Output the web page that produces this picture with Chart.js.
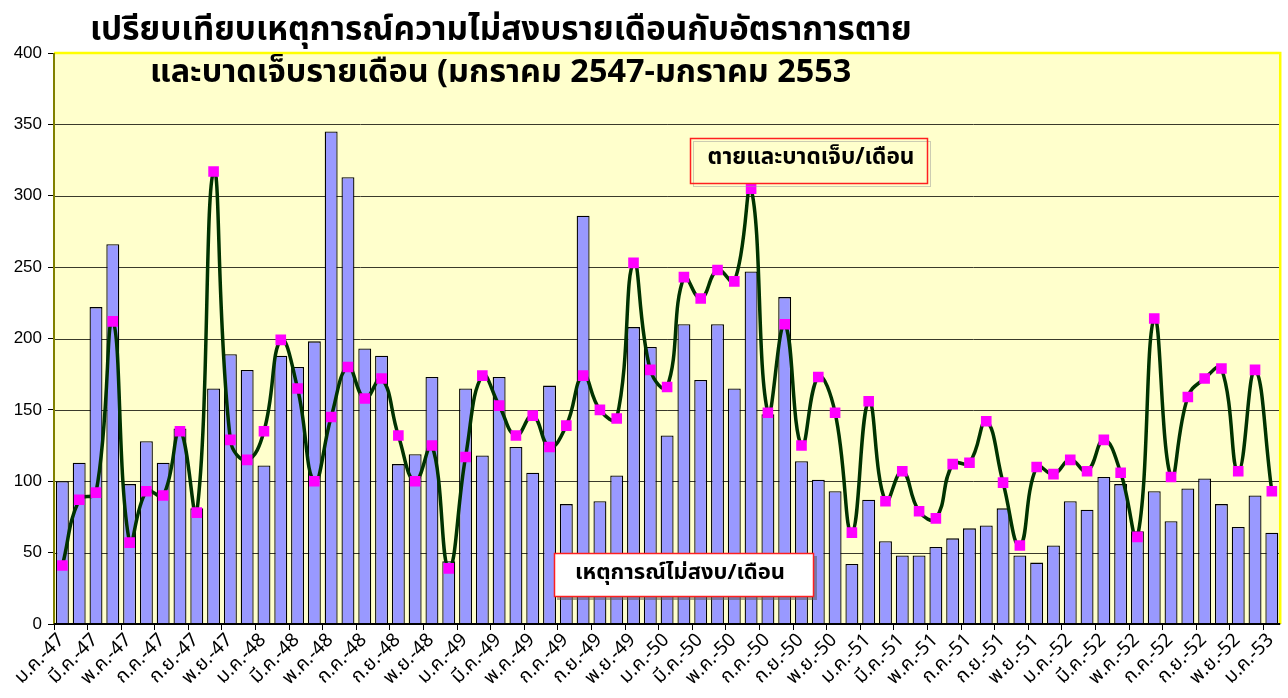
<!DOCTYPE html>
<html>
<head>
<meta charset="utf-8">
<script src="https://cdn.jsdelivr.net/npm/chart.js@4/dist/chart.umd.min.js"></script>
<style>
html,body{margin:0;padding:0;background:#fff;}
#wrap{position:relative;width:1288px;height:698px;}
</style>
</head>
<body>
<div id="wrap"><canvas id="c" width="1288" height="698"></canvas></div>
<script>
const categories = [
 "ม.ค.-47","ก.พ.-47","มี.ค.-47","เม.ย.-47","พ.ค.-47","มิ.ย.-47","ก.ค.-47","ส.ค.-47","ก.ย.-47","ต.ค.-47","พ.ย.-47","ธ.ค.-47",
 "ม.ค.-48","ก.พ.-48","มี.ค.-48","เม.ย.-48","พ.ค.-48","มิ.ย.-48","ก.ค.-48","ส.ค.-48","ก.ย.-48","ต.ค.-48","พ.ย.-48","ธ.ค.-48",
 "ม.ค.-49","ก.พ.-49","มี.ค.-49","เม.ย.-49","พ.ค.-49","มิ.ย.-49","ก.ค.-49","ส.ค.-49","ก.ย.-49","ต.ค.-49","พ.ย.-49","ธ.ค.-49",
 "ม.ค.-50","ก.พ.-50","มี.ค.-50","เม.ย.-50","พ.ค.-50","มิ.ย.-50","ก.ค.-50","ส.ค.-50","ก.ย.-50","ต.ค.-50","พ.ย.-50","ธ.ค.-50",
 "ม.ค.-51","ก.พ.-51","มี.ค.-51","เม.ย.-51","พ.ค.-51","มิ.ย.-51","ก.ค.-51","ส.ค.-51","ก.ย.-51","ต.ค.-51","พ.ย.-51","ธ.ค.-51",
 "ม.ค.-52","ก.พ.-52","มี.ค.-52","เม.ย.-52","พ.ค.-52","มิ.ย.-52","ก.ค.-52","ส.ค.-52","ก.ย.-52","ต.ค.-52","พ.ย.-52","ธ.ค.-52",
 "ม.ค.-53"
];
const incidents = [100,113,222,266,98,128,113,137,81,165,189,178,111,188,180,198,345,313,193,188,112,119,173,44,165,118,173,124,106,167,84,286,86,104,208,194,132,210,171,210,165,247,147,229,114,101,93,42,87,58,48,48,54,60,67,69,81,48,43,55,86,80,103,98,65,93,72,95,102,84,68,90,64];
const casualties = [41,87,92,212,57,93,90,135,78,317,129,115,135,199,165,100,145,180,158,172,132,100,125,39,117,174,153,132,146,124,139,174,150,144,253,178,166,243,228,248,240,305,148,210,125,173,148,64,156,86,107,79,74,112,113,142,99,55,110,105,115,107,129,106,61,214,103,159,172,179,107,178,93];
const yTicks = [0,50,100,150,200,250,300,350,400];
const titleLines = ["เปรียบเทียบเหตุการณ์ความไม่สงบรายเดือนกับอัตราการตาย","และบาดเจ็บรายเดือน (มกราคม 2547-มกราคม 2553"];
const lineLabel = "ตายและบาดเจ็บ/เดือน";
const barLabel = "เหตุการณ์ไม่สงบ/เดือน";

const FONT = "Tahoma, 'Noto Sans Thai', 'Noto Sans', 'DejaVu Sans', sans-serif";

function fitText(ctx, text, targetW, baseSize){
  ctx.font = "bold " + baseSize + "px " + FONT;
  const w = ctx.measureText(text).width;
  const sz = baseSize * targetW / w;
  ctx.font = "bold " + sz.toFixed(1) + "px " + FONT;
}

const decor = {
  id:'decor',
  beforeDatasetsDraw(chart){
    const {ctx, chartArea:a} = chart;
    ctx.save();
    ctx.fillStyle = '#FFFFCC';
    ctx.fillRect(a.left, a.top, a.right-a.left, a.bottom-a.top);
    const y = chart.scales.y;
    ctx.strokeStyle = '#3a3a2a';
    ctx.lineWidth = 1;
    yTicks.forEach(v=>{
      if(v===0||v===400) return;
      const py = Math.round(y.getPixelForValue(v))+0.5;
      ctx.beginPath(); ctx.moveTo(a.left, py); ctx.lineTo(a.right, py); ctx.stroke();
    });
    ctx.restore();
  },
  afterDatasetsDraw(chart){
    const {ctx, chartArea:a} = chart;
    ctx.save();
    ctx.strokeStyle = '#FFFF00';
    ctx.lineWidth = 2.5;
    ctx.beginPath();
    ctx.moveTo(a.left, a.top); ctx.lineTo(a.right, a.top); ctx.lineTo(a.right, a.bottom);
    ctx.stroke();
    ctx.strokeStyle = '#808000';
    ctx.lineWidth = 2;
    ctx.beginPath(); ctx.moveTo(a.left, a.top); ctx.lineTo(a.left, a.bottom); ctx.stroke();
    ctx.strokeStyle = '#000';
    ctx.lineWidth = 2;
    ctx.beginPath(); ctx.moveTo(a.left, a.bottom); ctx.lineTo(a.right, a.bottom); ctx.stroke();

    // annotation 1 (line)
    ctx.fillStyle = '#FFFFCC';
    ctx.fillRect(690,138,238,45);
    ctx.setLineDash([1,1]);
    ctx.strokeStyle = '#999';
    ctx.lineWidth = 1;
    ctx.strokeRect(693.5,141.5,237,45);
    ctx.setLineDash([]);
    ctx.strokeStyle = '#FF2020';
    ctx.lineWidth = 1.5;
    ctx.strokeRect(690.5,138.5,237,45);
    ctx.fillStyle = '#000';
    ctx.textAlign = 'center';
    ctx.textBaseline = 'middle';
    fitText(ctx, lineLabel, 207, 17);
    ctx.fillText(lineLabel, 811, 159);

    // annotation 2 (bars)
    ctx.fillStyle = 'rgba(90,90,90,0.55)';
    ctx.fillRect(557,556,260,44);
    ctx.fillStyle = '#FFFFFF';
    ctx.fillRect(554,553,260,44);
    ctx.strokeStyle = '#FF2020';
    ctx.lineWidth = 1.5;
    ctx.strokeRect(554.5,553.5,259,43);
    ctx.fillStyle = '#000';
    fitText(ctx, barLabel, 210, 17);
    ctx.fillText(barLabel, 680, 575);

    // title
    ctx.textAlign = 'left';
    ctx.textBaseline = 'alphabetic';
    fitText(ctx, titleLines[0], 822, 28);
    ctx.fillText(titleLines[0], 90, 40);
    fitText(ctx, titleLines[1], 702, 28);
    ctx.fillText(titleLines[1], 150, 82);
    ctx.restore();
  }
};

new Chart(document.getElementById('c'), {
  type:'bar',
  data:{
    labels: categories,
    datasets:[
      {
        type:'line',
        label: lineLabel,
        data: casualties,
        borderColor:'#003300',
        borderWidth:3.5,
        tension:0.45,
        pointStyle:'rect',
        pointRadius:7.5,
        pointBackgroundColor:'#FF00FF',
        pointBorderWidth:0,
        pointBorderColor:'#FF00FF',
        order:0
      },
      {
        type:'bar',
        label: barLabel,
        data: incidents,
        backgroundColor:'#9999FF',
        borderColor:'#000000',
        borderWidth:1.3,
        categoryPercentage:1,
        barPercentage:0.77,
        order:1
      }
    ]
  },
  options:{
    responsive:false,
    animation:false,
    layout:{padding:{top:53,right:7,left:0,bottom:0}},
    plugins:{legend:{display:false},tooltip:{enabled:false},title:{display:false}},
    scales:{
      x:{
        offset:true,
        grid:{
          offset:true,
          drawOnChartArea:false,
          drawTicks:true,
          tickLength:6,
          color:(c)=> (c.index % 2 === 0 ? '#000' : 'rgba(0,0,0,0)'),
          lineWidth:1
        },
        border:{display:false},
        ticks:{
          autoSkip:false,
          minRotation:45,
          maxRotation:45,
          padding:0,
          color:'#000',
          font:{family:FONT, size:19},
          callback:function(v,i){ return i % 2 === 0 ? categories[i] : ''; }
        },
        afterFit(scale){ scale.height = 74; }
      },
      y:{
        min:0,max:400,
        afterBuildTicks(scale){ scale.ticks = yTicks.map(v=>({value:v})); },
        grid:{
          drawOnChartArea:false,
          drawTicks:true,
          tickLength:6,
          color:'#000'
        },
        border:{display:false},
        ticks:{
          color:'#000',
          padding:6,
          font:{family:"Arial, 'Liberation Sans', sans-serif", size:17}
        },
        afterFit(scale){ scale.width = 54; }
      }
    }
  },
  plugins:[decor]
});
</script>
</body>
</html>
